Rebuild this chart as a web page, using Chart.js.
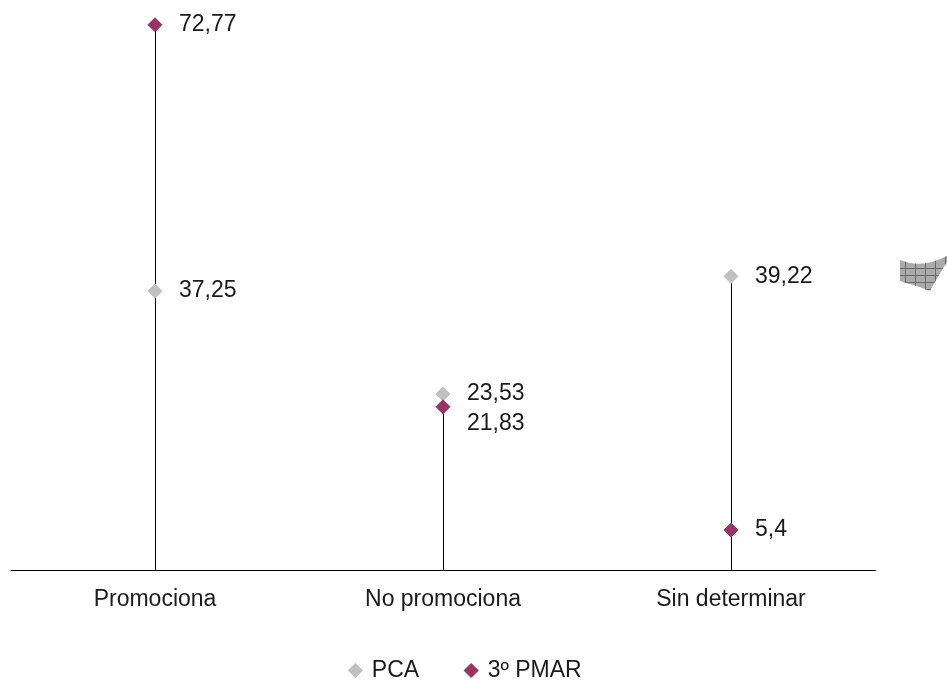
<!DOCTYPE html>
<html>
<head>
<meta charset="utf-8">
<script src="https://cdn.jsdelivr.net/npm/chart.js@4/dist/chart.umd.min.js"></script>
<style>
  html, body { margin: 0; padding: 0; background: #fff; }
  #wrap { width: 947px; height: 680px; }
</style>
</head>
<body>
<div id="wrap"><canvas id="myChart"></canvas></div>
<script>
var categories = ['Promociona', 'No promociona', 'Sin determinar'];
var pcaValues = [37.25, 23.53, 39.22];
var pmarValues = [72.77, 21.83, 5.4];
var seriesNames = ['PCA', '3º PMAR'];

var fontFamily = '"Liberation Sans", Arial, sans-serif';

function fmt(v) {
    return String(v).replace('.', ',');
}

// vertical drop lines from the axis to the highest point of each category
var dropLines = {
    id: 'dropLines',
    beforeDatasetsDraw: function (chart) {
        var ctx = chart.ctx, x = chart.scales.x, y = chart.scales.y;
        ctx.save();
        ctx.strokeStyle = '#000';
        ctx.lineWidth = 1;
        categories.forEach(function (c, i) {
            var top = Math.max(pcaValues[i], pmarValues[i]);
            var px = Math.round(x.getPixelForValue(i)) + 0.5;
            ctx.beginPath();
            ctx.moveTo(px, y.getPixelForValue(0));
            ctx.lineTo(px, y.getPixelForValue(top));
            ctx.stroke();
        });
        ctx.restore();
    }
};

// value labels to the right of each marker
var valueLabels = {
    id: 'valueLabels',
    afterDatasetsDraw: function (chart) {
        var ctx = chart.ctx;
        ctx.save();
        ctx.font = '23px ' + fontFamily;
        ctx.fillStyle = '#1a1a1a';
        ctx.textBaseline = 'middle';
        ctx.textAlign = 'left';
        chart.data.datasets.forEach(function (ds, di) {
            var meta = chart.getDatasetMeta(di);
            meta.data.forEach(function (pt, i) {
                var dy = 0;
                // lower label of a close pair is pushed down
                var other = di === 0 ? pmarValues[i] : pcaValues[i];
                if (Math.abs(other - ds.data[i]) < 4 && ds.data[i] < other) dy = 17;
                ctx.fillText(fmt(ds.data[i]), pt.x + 24, pt.y + dy);
            });
        });

        // stray hatched shape at the right edge
        ctx.beginPath();
        ctx.moveTo(900, 260);
        ctx.quadraticCurveTo(922, 269, 947, 256);
        ctx.lineTo(947, 262);
        ctx.quadraticCurveTo(938, 276, 930, 291);
        ctx.quadraticCurveTo(915, 285, 900, 281);
        ctx.closePath();
        ctx.fillStyle = '#ababab';
        ctx.fill();
        ctx.clip();
        ctx.strokeStyle = '#6a6a6a';
        ctx.lineWidth = 1;
        for (var gx = 905; gx < 947; gx += 10) {
            ctx.beginPath(); ctx.moveTo(gx + 0.5, 255); ctx.lineTo(gx + 0.5, 295); ctx.stroke();
        }
        for (var gy = 268; gy < 295; gy += 7) {
            ctx.beginPath(); ctx.moveTo(895, gy + 0.5); ctx.lineTo(947, gy + 0.5); ctx.stroke();
        }
        ctx.restore();
    }
};

var ctx = document.getElementById('myChart').getContext('2d');
var config = {
    type: 'line',
    data: {
        labels: categories,
        datasets: [{
            label: seriesNames[0],
            data: pcaValues,
            showLine: false,
            pointStyle: 'rectRot',
            pointRadius: 7,
            pointBackgroundColor: '#c0c0c0',
            pointBorderColor: '#c0c0c0',
            backgroundColor: '#c0c0c0',
            borderColor: '#c0c0c0',
            order: 1
        }, {
            label: seriesNames[1],
            data: pmarValues,
            showLine: false,
            pointStyle: 'rectRot',
            pointRadius: 7,
            pointBackgroundColor: '#993366',
            pointBorderColor: '#993366',
            backgroundColor: '#993366',
            borderColor: '#993366',
            order: 0
        }]
    },
    plugins: [dropLines, valueLabels],
    options: {
        responsive: true,
        maintainAspectRatio: false,
        animation: false,
        layout: {
            padding: { left: 11, right: 26, top: 6, bottom: -12 }
        },
        scales: {
            x: {
                offset: true,
                grid: { display: false, drawTicks: false },
                border: { display: true, color: '#000', width: 1 },
                ticks: { color: '#1a1a1a', font: { family: fontFamily, size: 23 }, padding: 15 },
                afterFit: function (scale) { scale.height = scale.height - 16; }
            },
            y: {
                position: 'right',
                min: 0,
                max: 75,
                grid: { display: false, drawTicks: false },
                border: { display: false },
                ticks: { display: false },
                afterFit: function (scale) { scale.width = 46; }
            }
        },
        plugins: {
            tooltip: { enabled: false },
            legend: {
                position: 'bottom',
                labels: {
                    usePointStyle: true,
                    pointStyle: 'rectRot',
                    boxWidth: 10,
                    boxHeight: 10,
                    color: '#1a1a1a',
                    font: { family: fontFamily, size: 23 },
                    padding: 47,
                    sort: function (a, b) { return a.datasetIndex - b.datasetIndex; }
                }
            }
        }
    }
};
window.myChart = new Chart(ctx, config);
</script>
</body>
</html>
